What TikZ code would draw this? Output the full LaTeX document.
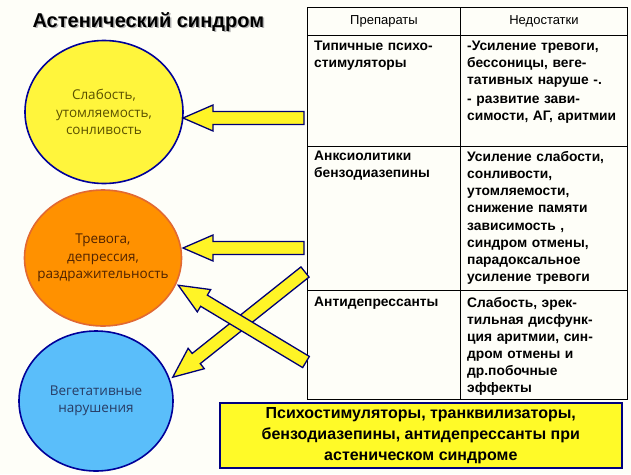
\documentclass[tikz,border=0pt]{standalone}
\usepackage{fontspec}
\setmainfont{Liberation Sans}
\newfontfamily\lightf{Open Sans}
\usetikzlibrary{shapes.geometric}
\begin{document}
\begin{tikzpicture}[x=1pt,y=-1pt,
  circ/.style 2 args={ellipse,draw=blue!60!black,line width=1.6pt,minimum width=#1,minimum height=#2,inner sep=0},
  ctext/.style={align=center,inner sep=0,font=\lightf\fontsize{13.5}{17.5}\selectfont},
  cell/.style={anchor=north west,align=left,text width=160,inner sep=0,font=\bfseries\fontsize{13.8}{17}\selectfont},
  arr/.style={fill=yellow!85!white,draw=blue!45!black,line width=1.3pt,line join=miter}]
\useasboundingbox[fill={rgb,255:red,254;green,254;blue,248}] (0,0) rectangle (631,474);
\newcommand\fatarr[4]{\begin{scope}[shift={#1},rotate=#2]
 \draw[arr] (0,-6.5)--(#3-30,-6.5)--(#3-30,-13)--(#3,0)--(#3-30,13)--(#3-30,6.5)--(0,6.5)--cycle;
 \coordinate (#4) at (#3,0);\end{scope}}
\node[font=\bfseries\fontsize{20}{22}\selectfont,text=gray!60,anchor=west] at (30.5,23.5) {Астенический синдром};
\node (title)[font=\bfseries\fontsize{20}{22}\selectfont,anchor=west] at (29,22) {Астенический синдром};
\node (c1)[circ={158}{143},fill={rgb,255:red,255;green,245;blue,60}] at (104,112) {};
\node (c1t)[ctext,text={rgb,255:red,90;green,80;blue,0}] at (c1) {Слабость,\\утомляемость,\\сонливость};
\node (c2)[circ={157}{136},fill={rgb,255:red,255;green,145;blue,0},draw={rgb,255:red,225;green,105;blue,50}] at (103,258) {};
\node (c2t)[ctext,text={rgb,255:red,80;green,35;blue,0}] at (c2) {Тревога,\\депрессия,\\раздражительность};
\node (c3)[circ={154}{140},fill={rgb,255:red,90;green,190;blue,250}] at (96,401) {};
\node (c3t)[ctext,text={rgb,255:red,40;green,60;blue,100}] at (c3) {Вегетативные\\нарушения};
% table
\node (tab)[draw,line width=1.2pt,minimum width=320,minimum height=392,anchor=north west,inner sep=0] at (307,7) {};
\draw[line width=0.8pt] (460,7)--(460,399) (307,35)--(627,35) (307,146)--(627,146) (307,290)--(627,290);
\node (h1)[font=\fontsize{13}{14}\selectfont] at (384,21) {Препараты};
\node (h2)[font=\fontsize{13}{14}\selectfont] at (544,21) {Недостатки};
\node (a1)[cell] at (314,41) {Типичные психо-\\стимуляторы};
\node (b1)[cell] at (467,41) {-Усиление тревоги,\\бессоницы, веге-\\тативных наруше -.};
\node (b1b)[cell] at (467,96) {- развитие зави-\\симости, АГ, аритмии};
\node (a2)[cell] at (314,151) {Анксиолитики\\бензодиазепины};
\node (b2)[cell] at (467,151) {Усиление слабости,\\сонливости,\\утомляемости,\\снижение памяти};
\node (b2b)[cell] at (467,223) {зависимость ,\\синдром отмены,\\парадоксальное\\усиление тревоги};
\node (a3)[cell] at (314,297) {Антидепрессанты};
\node (b3)[cell] at (467,297) {Слабость, эрек-\\тильная дисфунк-\\ция аритмии, син-\\дром отмены и\\др.побочные\\эффекты};
% arrows
\fatarr{(304,118)}{180}{121}{t1}
\fatarr{(304,248)}{180}{121}{t2}
\fatarr{(305,272)}{218.5}{169}{t3}
\fatarr{(306,362)}{149}{149}{t4}
% bottom box
\node (box)[draw=blue!50!black,line width=1.6pt,fill={rgb,255:red,255;green,250;blue,40},minimum width=402,minimum height=65,anchor=north west,align=center,inner sep=0,font=\bfseries\fontsize{16}{21}\selectfont] at (219,402) {Психостимуляторы, транквилизаторы,\\бензодиазепины, антидепрессанты при\\астеническом синдроме};
\end{tikzpicture}
\end{document}
